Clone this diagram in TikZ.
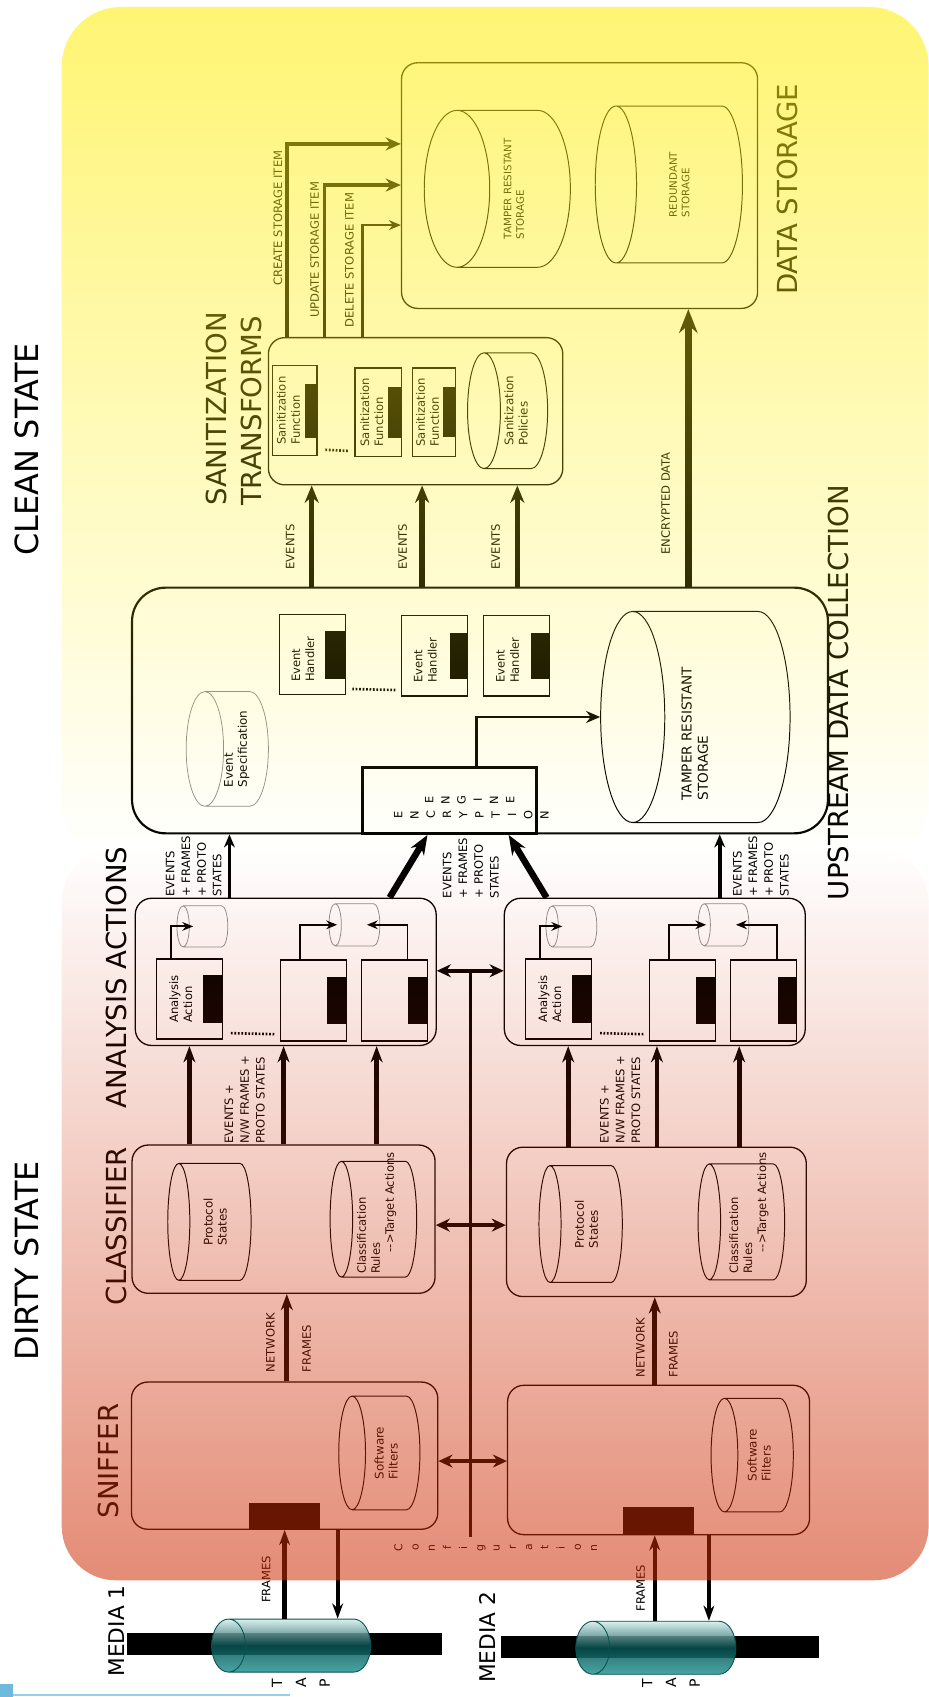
\documentclass[tikz,border=0pt]{standalone}
\usepackage{fontspec}
\setmainfont{DejaVu Sans}
\usepackage{xcolor}
\usepackage{tikz}
\usetikzlibrary{positioning,arrows.meta,shapes.geometric,fadings}

\definecolor{cleanyellow}{RGB}{255,238,20}
\definecolor{dirtyred}{RGB}{205,45,5}
\definecolor{tapdark}{RGB}{8,82,82}
\definecolor{tapmid}{RGB}{38,150,148}
\definecolor{taplight}{RGB}{210,238,235}
\definecolor{cropblue}{RGB}{110,185,220}

\tikzfading[name=cleanfade, top color=transparent!40, bottom color=transparent!100]
\tikzfading[name=dirtyfade, top color=transparent!100, bottom color=transparent!45]

\begin{document}
\begin{tikzpicture}[
    x=1pt, y=1pt,
    statetitle/.style={font=\fontsize{29.5}{35}\selectfont, inner sep=0pt},
    title/.style={font=\fontsize{25.5}{32}\selectfont, align=left, inner sep=0pt},
    mediatitle/.style={font=\fontsize{20}{24}\selectfont, inner sep=0pt},
    group/.style={draw, rounded corners=15pt, line width=1.2pt},
    unitbox/.style={draw, line width=1.2pt, inner sep=0pt},
    bar/.style={fill=black, inner sep=0pt},
    drum/.style={
        cylinder,
        shape border rotate=90,
        anchor=shape center,
        draw,
        line width=0.9pt,
        shape aspect=0.5,
        inner sep=0pt,
        align=left,
        font=\fontsize{11}{13}\selectfont
    },
    faintdrum/.style={drum, draw=black!45, line width=0.7pt},
    tap/.style={
        cylinder,
        shape border rotate=90,
        anchor=shape center,
        draw=tapdark,
        line width=0.8pt,
        shape aspect=1.1,
        inner sep=0pt,
        font=\fontsize{11}{13}\selectfont,
        top color=taplight,
        bottom color=tapmid,
        middle color=tapdark,
        fill opacity=0.85
    },
    txt/.style={font=\fontsize{10.7}{13}\selectfont, align=left, inner sep=0pt},
    lbl/.style={font=\fontsize{10.7}{14.5}\selectfont, align=left, inner sep=0pt},
    stack/.style={font=\fontsize{10.5}{15}\selectfont, align=center, inner sep=0pt},
    dots/.style={line width=2.4pt, dash pattern=on 1.6pt off 1.6pt},
    evflow/.style={-{Stealth[length=16pt,width=13pt]}, line width=5pt},
    dataflow/.style={-{Stealth[length=22pt,width=17pt]}, line width=7pt},
    storeflow/.style={-{Stealth[length=14pt,width=12pt]}, line width=3.2pt},
    delflow/.style={-{Stealth[length=11pt,width=9pt]}, line width=2.3pt},
    thinflow/.style={-{Stealth[length=13pt,width=11pt]}, line width=2.5pt},
    upflow/.style={-{Stealth[length=12pt,width=10pt]}, line width=3.5pt},
    diagflow/.style={-{Stealth[length=18pt,width=14pt]}, line width=6pt},
    stageflow/.style={-{Stealth[length=15pt,width=11pt]}, line width=4.5pt},
    tinyflow/.style={-{Stealth[length=10pt,width=8pt]}, line width=1.8pt},
    tapflow/.style={-{Stealth[length=14pt,width=10pt]}, line width=4pt},
    cfgflow/.style={{Stealth[length=13pt,width=12pt]}-{Stealth[length=13pt,width=12pt]}, line width=4pt},
    cfgline/.style={line width=2.5pt}
]

\useasboundingbox (0,0) rectangle (858,1568);

\begin{scope}[shift={(858,0)}, rotate=90, transform shape]

% titles
\node[statetitle] (clean) at (1153,833) {CLEAN STATE};
\node[statetitle] (dirty) at (403,833) {DIRTY STATE};
\node[title] (dstitle) at (1393,130) {DATA STORAGE};
\node[title] (santitle) at (1190,642) {SANITIZATION\\TRANSFORMS};
\node[title] (uptitle) at (928,83) {UPSTREAM DATA COLLECTION};
\node[title] (antitle) at (665,750) {ANALYSIS ACTIONS};
\node[title] (cltitle) at (435,750) {CLASSIFIER};
\node[title] (sntitle) at (218,758) {SNIFFER};
\node[mediatitle] (m1title) at (61,750) {MEDIA 1};
\node[mediatitle] (m2title) at (55,408) {MEDIA 2};

% data storage
\node[group, minimum width=227pt, minimum height=329pt] (ds) at (1396.5,322.5) {};
\node[drum, shape aspect=0.65, minimum width=145pt, minimum height=135pt,
    font=\fontsize{9.5}{11.5}\selectfont] (dstrs) at (1393.5,398.5) {TAMPER RESISTANT\\STORAGE};
\node[drum, shape aspect=0.63, minimum width=145pt, minimum height=136pt,
    font=\fontsize{9.5}{11.5}\selectfont] (dsred) at (1397.5,240) {REDUNDANT\\STORAGE};

% sanitization transforms
\node[group, minimum width=136pt, minimum height=272pt] (san) at (1188,474) {};
\node[unitbox, minimum width=83pt, minimum height=41pt] (sf1) at (1188.5,585.5) {};
\node[bar, minimum width=50pt, minimum height=12pt, anchor=south] (sf1bar) at (sf1.south) {};
\node[txt] at ([yshift=6pt]sf1.center) {Sanitization\\Function};
\node[unitbox, minimum width=82pt, minimum height=43pt] (sf2) at (1187,508.5) {};
\node[bar, minimum width=47pt, minimum height=13pt, anchor=south] (sf2bar) at (sf2.south) {};
\node[txt] at ([yshift=6pt]sf2.center) {Sanitization\\Function};
\node[unitbox, minimum width=82pt, minimum height=40pt] (sf3) at (1187,457) {};
\node[bar, minimum width=46pt, minimum height=12pt, anchor=south] (sf3bar) at (sf3.south) {};
\node[txt] at ([yshift=6pt]sf3.center) {Sanitization\\Function};
\node[drum, shape aspect=0.47, minimum width=107pt, minimum height=74pt] (pol) at (1188.5,389) {Sanitization\\Policies};
\draw[dots] ([xshift=6pt,yshift=6pt]sf2.north west) -- ([xshift=6pt,yshift=-7pt]sf1.south west);

\draw[storeflow] (san.east |- 0,593) -| (ds.north -| 1435,0);
\draw[storeflow] (san.east |- 0,558) -| (ds.north -| 1397,0);
\draw[delflow] (san.east |- 0,523) -| (ds.north -| 1360,0);
\node[lbl, anchor=south east] at (1429,597) {CREATE STORAGE ITEM};
\node[lbl, anchor=south east] at (1400,563) {UPDATE STORAGE ITEM};
\node[lbl, anchor=south east] at (1390,531) {DELETE STORAGE ITEM};

% upstream data collection
\node[group, line width=2pt, rounded corners=31pt, minimum width=227pt, minimum height=643pt] (up) at (911.5,414.5) {};
\node[unitbox, minimum width=74pt, minimum height=61pt] (eh1) at (963,569.5) {};
\node[bar, minimum width=44pt, minimum height=19pt, anchor=south] (eh1bar) at (eh1.south) {};
\node[txt] at ([xshift=-4pt,yshift=8.5pt]eh1.center) {Event\\Handler};
\node[unitbox, minimum width=74pt, minimum height=61pt] (eh2) at (962,456.5) {};
\node[bar, minimum width=43pt, minimum height=17pt, anchor=south] (eh2bar) at (eh2.south) {};
\node[txt] at ([xshift=-4pt,yshift=8.5pt]eh2.center) {Event\\Handler};
\node[unitbox, minimum width=74pt, minimum height=61pt] (eh3) at (962,380.5) {};
\node[bar, minimum width=43pt, minimum height=18pt, anchor=south] (eh3bar) at (eh3.south) {};
\node[txt] at ([xshift=-4pt,yshift=8.5pt]eh3.center) {Event\\Handler};
\draw[dots] ([xshift=6pt,yshift=5pt]eh2.north west) -- ([xshift=6pt,yshift=-6pt]eh1.south west);
\node[faintdrum, shape aspect=0.49, minimum width=106pt, minimum height=76pt] (espec) at (876,648) {Event\\Specification};
\node[draw, line width=3pt, minimum width=61pt, minimum height=161pt] (enc) at (828.5,442.5) {};
\node[stack] (enctxt) at (815,422.5) {E\\N\\C\\R\\Y\\P\\T\\I\\O\\N};
\node[stack] (engtxt) at (829,424) {E\\N\\G\\I\\N\\E};
\node[drum, shape aspect=0.48, minimum width=195pt, minimum height=175pt,
    font=\fontsize{12.6}{15}\selectfont] (utrs) at (905.5,215.5) {\phantom{TAMPER RESISTANT}\\\phantom{STORAGE}};
\node[txt, font=\fontsize{12.6}{15}\selectfont] at (890,216) {TAMPER RESISTANT\\STORAGE};
\draw[thinflow] ([yshift=-25pt]enc.east) -| (utrs.top);

\draw[evflow] (up.east |- 0,570) -- (san.west |- 0,570);
\draw[evflow] (up.east |- 0,468) -- (san.west |- 0,468);
\draw[evflow] (up.east |- 0,380) -- (san.west |- 0,380);
\node[lbl] at (1063,590) {EVENTS};
\node[lbl] at (1063,486) {EVENTS};
\node[lbl] at (1063,400) {EVENTS};
\draw[dataflow] (up.east |- 0,222) -- (ds.west |- 0,222);
\node[lbl] at (1103,243) {ENCRYPTED DATA};

% analysis actions
\node[group, minimum width=136pt, minimum height=278pt] (an1) at (670,594) {};
\node[faintdrum, shape aspect=0.6, minimum width=38pt, minimum height=47pt] (cya1) at (712,671) {\phantom{MM}};
\node[faintdrum, shape aspect=0.6, minimum width=39pt, minimum height=47pt] (cyb1) at (713.5,530.5) {\phantom{MM}};
\node[unitbox, minimum width=74pt, minimum height=61pt] (aa1) at (645,683) {};
\node[bar, minimum width=44pt, minimum height=18pt, anchor=south] (aa1bar) at (aa1.south) {};
\node[txt] at ([yshift=8pt]aa1.center) {Analysis\\Action};
\node[unitbox, minimum width=75pt, minimum height=61pt] (ab1) at (643.5,568.5) {};
\node[bar, minimum width=44pt, minimum height=18pt, anchor=south] (ab1bar) at (ab1.south) {};
\node[unitbox, minimum width=75pt, minimum height=61pt] (ac1) at (643.5,493.5) {};
\node[bar, minimum width=44pt, minimum height=18pt, anchor=south] (ac1bar) at (ac1.south) {};
\draw[dots] ([xshift=7pt,yshift=5pt]ab1.north west) -- ([xshift=6pt,yshift=-6pt]aa1.south west);
\draw[tinyflow] (aa1.east |- 0,700) -| (cya1.top |- 0,679.5);
\draw[tinyflow] (ab1.east |- 0,581) -| (cyb1.top |- 0,546.5);
\draw[tinyflow] (ac1.east |- 0,481.5) -| (cyb1.top |- 0,519);

\node[group, minimum width=136pt, minimum height=278pt] (an2) at (670,253) {};
\node[faintdrum, shape aspect=0.6, minimum width=38pt, minimum height=47pt] (cya2) at (712,330) {\phantom{MM}};
\node[faintdrum, shape aspect=0.6, minimum width=39pt, minimum height=47pt] (cyb2) at (713.5,189.5) {\phantom{MM}};
\node[unitbox, minimum width=74pt, minimum height=61pt] (aa2) at (645,342) {};
\node[bar, minimum width=44pt, minimum height=18pt, anchor=south] (aa2bar) at (aa2.south) {};
\node[txt] at ([yshift=8pt]aa2.center) {Analysis\\Action};
\node[unitbox, minimum width=75pt, minimum height=61pt] (ab2) at (643.5,227.5) {};
\node[bar, minimum width=44pt, minimum height=18pt, anchor=south] (ab2bar) at (ab2.south) {};
\node[unitbox, minimum width=75pt, minimum height=61pt] (ac2) at (643.5,152.5) {};
\node[bar, minimum width=44pt, minimum height=18pt, anchor=south] (ac2bar) at (ac2.south) {};
\draw[dots] ([xshift=7pt,yshift=5pt]ab2.north west) -- ([xshift=6pt,yshift=-6pt]aa2.south west);
\draw[tinyflow] (aa2.east |- 0,359) -| (cya2.top |- 0,338.5);
\draw[tinyflow] (ab2.east |- 0,240) -| (cyb2.top |- 0,205.5);
\draw[tinyflow] (ac2.east |- 0,140.5) -| (cyb2.top |- 0,178);

\draw[upflow] (an1.east |- 0,646) -- (up.west |- 0,646);
\draw[diagflow] (an1.east |- 0,498) -- (enc.west |- 0,463);
\draw[diagflow] (an2.east |- 0,353) -- (enc.west |- 0,388);
\draw[upflow] (an2.east |- 0,193) -- (up.west |- 0,193);
\node[lbl] at (767.5,679) {EVENTS\\+ FRAMES\\+ PROTO\\STATES};
\node[lbl] at (766,423) {EVENTS\\+ FRAMES\\+ PROTO\\STATES};
\node[lbl] at (767.5,155) {EVENTS\\+ FRAMES\\+ PROTO\\STATES};

% classifier
\node[group, minimum width=137pt, minimum height=280pt] (cl1) at (441.5,596) {};
\node[drum, shape aspect=0.46, minimum width=108pt, minimum height=77pt] (ps1) at (439,664.5) {Protocol\\States};
\node[drum, shape aspect=0.47, minimum width=107pt, minimum height=80pt] (cr1) at (441.5,513) {\phantom{Protocol}\\\phantom{States}};
\node[txt] at (447,510) {Classification\\Rules\\\hspace*{20pt}-{}->Target Actions};
\node[group, minimum width=138pt, minimum height=277pt] (cl2) at (439,251.5) {};
\node[drum, shape aspect=0.46, minimum width=108pt, minimum height=77pt] (ps2) at (437,321.5) {Protocol\\States};
\node[drum, shape aspect=0.47, minimum width=107pt, minimum height=80pt] (cr2) at (439,173) {\phantom{Protocol}\\\phantom{States}};
\node[txt] at (447,166) {Classification\\Rules\\\hspace*{20pt}-{}->Target Actions};

\draw[stageflow] (cl1.east |- 0,683) -- (an1.west |- 0,683);
\draw[stageflow] (cl1.east |- 0,596) -- (an1.west |- 0,596);
\draw[stageflow] (cl1.east |- 0,510) -- (an1.west |- 0,510);
\draw[stageflow] (cl2.east |- 0,333) -- (an2.west |- 0,333);
\draw[stageflow] (cl2.east |- 0,251) -- (an2.west |- 0,251);
\draw[stageflow] (cl2.east |- 0,175) -- (an2.west |- 0,175);
\node[lbl] at (552,632) {EVENTS +\\N/W FRAMES +\\PROTO STATES};
\node[lbl] at (552,285) {EVENTS +\\N/W FRAMES +\\PROTO STATES};

% sniffer
\node[group, minimum width=136pt, minimum height=283pt] (sn1) at (223,595) {};
\node[drum, shape aspect=0.51, minimum width=105pt, minimum height=75pt] (swf1) at (225.5,507.5) {Software\\Filters};
\node[bar, minimum width=25pt, minimum height=65pt, anchor=west] (blk1) at (sn1.west) {};
\node[group, minimum width=138pt, minimum height=279pt] (sn2) at (219,249.5) {};
\node[drum, shape aspect=0.51, minimum width=105pt, minimum height=76pt] (swf2) at (223.5,163) {Software\\Filters};
\node[bar, minimum width=26pt, minimum height=65pt, anchor=west] (blk2) at (sn2.west) {};

\draw[stageflow] (sn1.east |- 0,593) -- (cl1.west |- 0,593);
\draw[stageflow] (sn2.east |- 0,253) -- (cl2.west |- 0,253);
\node[lbl, anchor=south west] at (300,604) {NETWORK};
\node[lbl, anchor=north west] at (300,579) {FRAMES};
\node[lbl, anchor=south west] at (295,262) {NETWORK};
\node[lbl, anchor=north west] at (295,240) {FRAMES};

% configuration
\coordinate (cfgtop) at (671,423);
\coordinate (cfgend) at (148,423);
\draw[cfgline] (cfgtop) -- (cfgend);
\draw[cfgflow] (cfgtop |- an1.south) -- (cfgtop |- an2.north);
\draw[cfgflow] (436,0 |- cl1.south) -- (436,0 |- cl2.north);
\draw[cfgflow] (218,0 |- sn1.south) -- (218,0 |- sn2.north);
\node[stack, font=\fontsize{10}{15}\selectfont] (cfgtxt) at (138,400) {C\\o\\n\\f\\i\\g\\u\\r\\a\\t\\i\\o\\n};

% media and taps
\node[bar, minimum width=19.5pt, minimum height=291pt] (m1bar) at (49,595.5) {};
\node[tap, minimum width=49pt, minimum height=147pt] (tap1) at (47.5,589) {\phantom{MMM}};
\node[bar, minimum width=20pt, minimum height=294pt] (m2bar) at (46,248) {};
\node[tap, minimum width=49pt, minimum height=148pt] (tap2) at (45.5,252) {\phantom{MMM}};
\draw[tapflow] (tap1.east |- 0,595) -- (blk1.west |- 0,595);
\draw[tapflow] (sn1.west |- 0,546) -- (tap1.east |- 0,546);
\draw[tapflow] (tap2.east |- 0,253) -- (blk2.west |- 0,253);
\draw[tapflow] (sn2.west |- 0,203) -- (tap2.east |- 0,203);
\node[lbl] at (108.5,612) {FRAMES};
\node[lbl] at (100.5,266) {FRAMES};
\node[stack, font=\fontsize{13}{22}\selectfont] (tap1txt) at (13,580) {T\\A\\P};
\node[stack, font=\fontsize{13}{22}\selectfont] (tap2txt) at (13,238) {T\\A\\P};

\end{scope}

% state backgrounds
\fill[cleanyellow, rounded corners=55pt, path fading=cleanfade, fit fading=true] (57,773) rectangle (858,1563);
\fill[dirtyred, rounded corners=50pt, path fading=dirtyfade, fit fading=true] (57,108) rectangle (858,785);

\fill[cropblue] (0,0) rectangle (12,12);
\fill[cropblue!70!white] (12,0.5) rectangle (268,2.5);

\end{tikzpicture}
\end{document}
